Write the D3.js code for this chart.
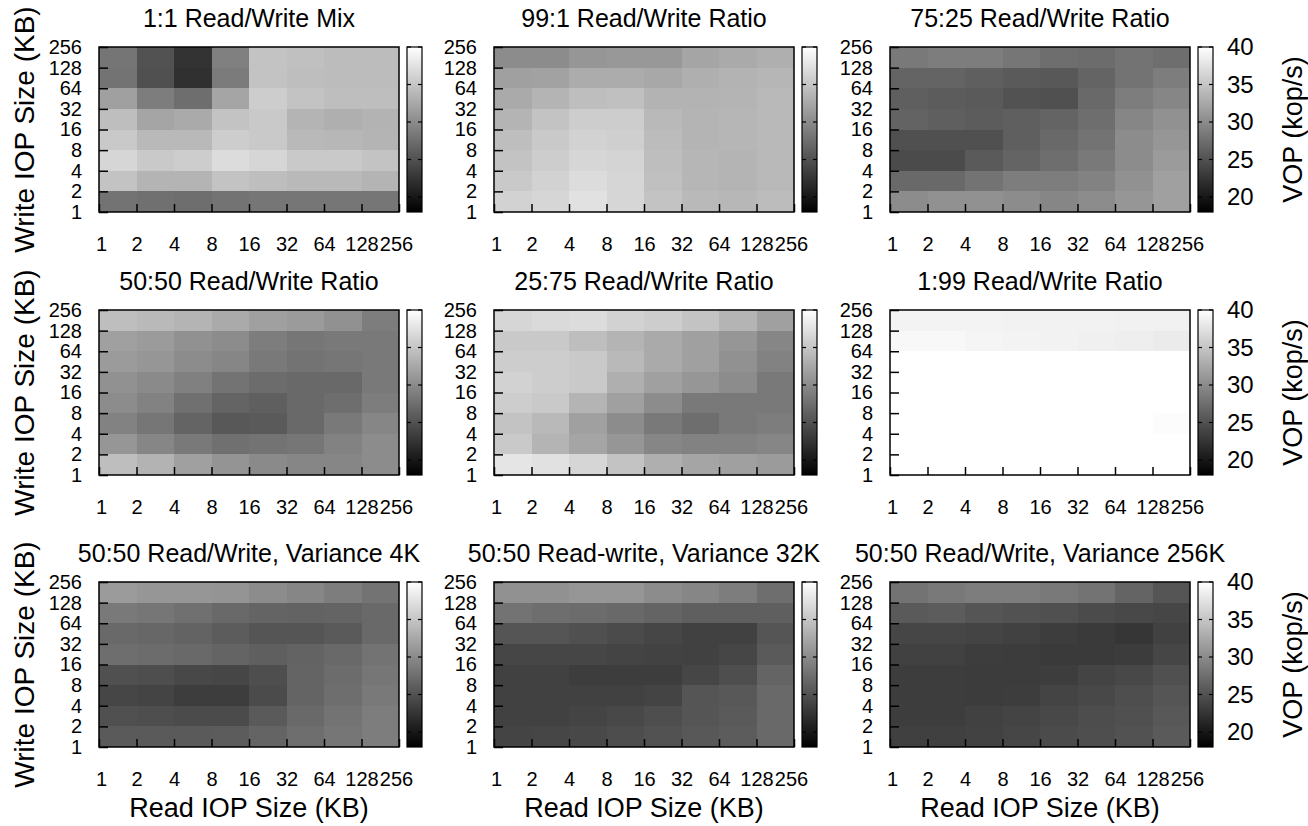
<!DOCTYPE html>
<html>
<head>
<meta charset="utf-8">
<script src="https://cdn.jsdelivr.net/npm/d3@7"></script>
<style>
  body { margin: 0; background: #fff; }
  svg { font-family: "Liberation Sans", Arial, Helvetica, sans-serif; }
</style>
</head>
<body>
<svg id="chart" width="1308" height="826"></svg>
<script>
// IOP sizes (KB); each cell spans [size, 2*size]
var readSizes = [1, 2, 4, 8, 16, 32, 64, 128];
var writeSizes = [128, 64, 32, 16, 8, 4, 2, 1]; // top row first
var tickLabels = [1, 2, 4, 8, 16, 32, 64, 128, 256];
var cbTicks = [20, 25, 30, 35, 40];

var titles = [
  "1:1 Read/Write Mix", "99:1 Read/Write Ratio", "75:25 Read/Write Ratio",
  "50:50 Read/Write Ratio", "25:75 Read/Write Ratio", "1:99 Read/Write Ratio",
  "50:50 Read/Write, Variance 4K", "50:50 Read-write, Variance 32K", "50:50 Read/Write, Variance 256K"
];

// VOP (kop/s), rows = write size 128..1, cols = read size 1..128
var mix11 = [
  [28.1, 25.1, 22.4, 29.0, 34.8, 34.6, 34.2, 34.2],
  [27.9, 24.9, 22.1, 28.6, 34.8, 34.4, 34.2, 34.2],
  [31.8, 28.8, 27.5, 32.2, 35.7, 34.8, 34.4, 34.4],
  [34.4, 32.2, 32.7, 34.8, 35.3, 33.5, 33.1, 33.4],
  [35.3, 34.0, 34.0, 35.7, 35.3, 34.0, 33.8, 33.5],
  [36.5, 35.3, 35.7, 37.0, 36.5, 35.3, 35.3, 34.8],
  [34.8, 33.5, 33.5, 34.8, 34.4, 34.0, 34.0, 33.5],
  [27.9, 27.7, 27.5, 27.9, 28.2, 28.2, 28.2, 28.2]
];
var ratio99_1 = [
  [30.1, 30.1, 30.9, 31.1, 31.1, 32.2, 32.7, 33.1],
  [31.8, 32.0, 32.8, 32.8, 32.5, 33.1, 33.4, 33.7],
  [32.7, 33.5, 34.4, 34.6, 33.4, 33.4, 33.5, 34.0],
  [33.5, 34.8, 35.7, 35.7, 34.0, 33.5, 33.7, 34.0],
  [34.4, 35.3, 36.1, 35.9, 34.2, 33.5, 33.7, 34.0],
  [34.8, 35.7, 36.5, 36.3, 34.4, 33.7, 33.5, 34.0],
  [35.3, 36.1, 37.0, 36.5, 34.6, 33.7, 33.5, 34.0],
  [36.1, 36.5, 37.4, 36.5, 34.8, 34.0, 33.8, 34.2]
];
var ratio75_25 = [
  [28.4, 28.8, 28.8, 28.2, 27.5, 27.3, 27.9, 27.5],
  [26.6, 26.6, 26.2, 25.8, 25.6, 26.6, 27.9, 28.8],
  [26.2, 25.9, 25.8, 25.1, 24.9, 27.1, 28.8, 29.6],
  [26.5, 26.2, 25.9, 26.2, 26.6, 27.5, 29.6, 30.5],
  [24.9, 24.9, 24.9, 26.2, 27.1, 27.9, 30.1, 30.9],
  [24.5, 24.5, 25.8, 26.6, 27.5, 28.4, 30.1, 31.4],
  [27.1, 27.1, 27.9, 28.8, 28.8, 29.2, 30.5, 31.8],
  [30.1, 30.5, 30.5, 30.1, 29.6, 30.1, 30.9, 31.8]
];
var ratio50_50 = [
  [34.4, 34.0, 33.5, 32.7, 31.8, 31.4, 30.5, 28.8],
  [31.8, 31.4, 30.5, 30.1, 28.8, 28.2, 28.4, 28.4],
  [31.4, 30.9, 30.1, 29.6, 28.4, 27.9, 28.2, 28.4],
  [30.5, 29.9, 29.0, 27.9, 27.3, 27.1, 27.1, 28.4],
  [30.1, 29.2, 27.7, 26.6, 26.2, 27.1, 27.5, 28.8],
  [29.2, 28.2, 26.6, 25.6, 25.8, 27.1, 28.4, 29.6],
  [30.9, 29.6, 28.4, 27.7, 27.9, 28.2, 29.2, 30.1],
  [34.4, 33.4, 31.8, 30.8, 29.9, 29.6, 29.6, 30.1]
];
var ratio25_75 = [
  [36.5, 36.8, 37.0, 36.1, 35.7, 34.8, 33.5, 31.8],
  [35.3, 35.3, 34.4, 33.5, 32.7, 31.8, 30.9, 29.6],
  [35.7, 35.7, 35.3, 34.0, 32.7, 31.8, 30.5, 29.2],
  [36.1, 35.7, 35.3, 33.1, 31.8, 30.9, 30.1, 28.4],
  [35.7, 35.3, 33.5, 31.8, 30.1, 28.4, 28.4, 28.4],
  [34.8, 34.0, 31.8, 30.1, 28.4, 27.5, 28.4, 28.8],
  [35.3, 33.5, 32.2, 30.9, 29.6, 29.2, 29.2, 29.6],
  [37.8, 37.4, 36.5, 34.8, 33.1, 32.2, 31.8, 31.4]
];
var ratio1_99 = [
  [39.0, 39.0, 39.0, 38.9, 38.9, 38.9, 38.8, 38.8],
  [39.4, 39.4, 39.1, 39.0, 38.9, 38.7, 38.5, 38.3],
  [40.0, 40.0, 40.0, 40.0, 40.0, 40.0, 40.0, 40.0],
  [40.0, 40.0, 40.0, 40.0, 40.0, 40.0, 40.0, 40.0],
  [40.0, 40.0, 40.0, 40.0, 40.0, 40.0, 40.0, 40.0],
  [40.0, 40.0, 40.0, 40.0, 40.0, 40.0, 40.0, 39.7],
  [40.0, 40.0, 40.0, 40.0, 40.0, 40.0, 40.0, 40.0],
  [40.0, 40.0, 40.0, 40.0, 40.0, 40.0, 40.0, 40.0]
];
var var4k = [
  [31.4, 30.9, 30.9, 30.8, 30.1, 29.6, 28.8, 27.9],
  [28.4, 28.2, 27.7, 27.1, 26.6, 26.5, 26.6, 27.1],
  [27.1, 26.9, 26.5, 25.9, 25.3, 25.3, 25.8, 27.1],
  [27.5, 27.3, 27.1, 26.6, 26.2, 26.5, 27.1, 27.9],
  [24.9, 24.7, 24.2, 24.0, 24.7, 26.6, 27.3, 28.2],
  [24.0, 23.9, 23.3, 23.3, 24.5, 26.6, 27.5, 28.4],
  [24.9, 24.7, 24.5, 24.5, 25.8, 27.1, 27.9, 28.8],
  [25.8, 25.8, 25.8, 25.9, 26.6, 27.5, 28.2, 28.8]
];
var var32k = [
  [30.5, 30.5, 30.9, 30.9, 30.1, 29.6, 28.8, 27.5],
  [27.9, 27.5, 27.3, 27.1, 26.6, 26.2, 26.2, 26.2],
  [25.3, 25.3, 24.9, 24.5, 24.0, 23.6, 23.6, 25.3],
  [24.0, 24.0, 24.0, 23.9, 23.7, 23.6, 24.0, 25.8],
  [23.6, 23.6, 23.3, 23.3, 23.3, 24.0, 24.7, 26.6],
  [23.6, 23.6, 23.6, 23.6, 23.9, 25.3, 25.6, 27.1],
  [23.6, 23.6, 23.9, 24.2, 24.7, 25.3, 25.8, 27.1],
  [23.9, 24.0, 24.2, 24.6, 25.1, 25.6, 25.9, 27.1]
];
var var256k = [
  [27.9, 28.4, 28.8, 28.8, 28.4, 27.9, 26.6, 25.3],
  [25.8, 25.9, 25.3, 25.1, 24.9, 24.5, 24.2, 24.0],
  [24.0, 24.0, 23.9, 23.6, 23.3, 23.0, 22.7, 23.6],
  [23.6, 23.6, 23.3, 23.2, 23.0, 23.0, 23.2, 24.0],
  [23.3, 23.3, 23.2, 23.2, 23.3, 23.9, 24.2, 24.9],
  [23.3, 23.3, 23.2, 23.3, 23.9, 24.2, 24.7, 25.3],
  [23.3, 23.3, 23.6, 23.9, 24.2, 24.6, 24.9, 25.6],
  [23.5, 23.5, 23.7, 24.0, 24.5, 24.7, 25.1, 25.8]
];
var panels = [mix11, ratio99_1, ratio75_25, ratio50_50, ratio25_75, ratio1_99, var4k, var32k, var256k];

// layout
var colLeft = [99, 494, 890];
var rowTop = [47, 310, 582];
var W = 300, H = 165;
var cbGap = 8, cbW = 15;

var svg = d3.select("#chart");

var x = d3.scaleLog().base(2).domain([1, 256]).range([0, W]);
var y = d3.scaleLog().base(2).domain([1, 256]).range([H, 0]);
var cbMin = 18, cbMax = 40;
var color = d3.scaleLinear().domain([cbMin, cbMax]).range(["#000", "#fff"]).clamp(true);
var cy = d3.scaleLinear().domain([cbMin, cbMax]).range([H, 0]);

var grad = svg.append("defs").append("linearGradient")
    .attr("id", "grey").attr("x1", 0).attr("y1", 1).attr("x2", 0).attr("y2", 0);
grad.append("stop").attr("offset", 0).attr("stop-color", "#000");
grad.append("stop").attr("offset", 1).attr("stop-color", "#fff");

panels.forEach(function(vals, p) {
  var r = Math.floor(p / 3), c = p % 3;
  var g = svg.append("g")
    .attr("transform", "translate(" + colLeft[c] + "," + rowTop[r] + ")");

  var cells = [];
  vals.forEach(function(row, i) {
    row.forEach(function(v, j) {
      cells.push({ w: writeSizes[i], rd: readSizes[j], v: v });
    });
  });

  g.selectAll("rect.cell")
    .data(cells)
    .join("rect")
    .attr("class", "cell")
    .attr("x", function(d) { return x(d.rd); })
    .attr("y", function(d) { return y(d.w * 2); })
    .attr("width", function(d) { return x(d.rd * 2) - x(d.rd); })
    .attr("height", function(d) { return y(d.w) - y(d.w * 2); })
    .attr("fill", function(d) { return color(d.v); })
    .attr("shape-rendering", "crispEdges");

  var xa = g.append("g")
    .attr("transform", "translate(0," + H + ")")
    .call(d3.axisBottom(x).tickValues(tickLabels).tickFormat(d3.format("d"))
      .tickSize(-8).tickPadding(25));
  var ya = g.append("g")
    .call(d3.axisLeft(y).tickValues(tickLabels).tickFormat(d3.format("d"))
      .tickSize(-9).tickPadding(17));
  [xa, ya].forEach(function(a) {
    a.select(".domain").remove();
    a.selectAll("line").attr("stroke", "#000").attr("stroke-width", 1.5);
    a.selectAll("text").attr("fill", "#000").style("font-size", "20px");
  });
  // last x label sits a little inward, like the original
  xa.selectAll(".tick text").attr("dx", function(d) { return d === 256 ? -3 : d === 1 ? 2 : 0; });

  g.append("rect")
    .attr("width", W).attr("height", H)
    .attr("fill", "none").attr("stroke", "#000").attr("stroke-width", 1.5);

  g.append("text")
    .attr("x", W / 2).attr("y", -20)
    .attr("text-anchor", "middle")
    .style("font-size", "25px")
    .text(titles[p]);

  // colour box
  var cb = g.append("g").attr("transform", "translate(" + (W + cbGap) + ",0)");
  cb.append("rect").attr("width", cbW).attr("height", H).attr("fill", "url(#grey)");
  cb.selectAll("line.tl")
    .data(cbTicks)
    .join("line")
    .attr("class", "tl")
    .attr("x1", 0).attr("x2", 4)
    .attr("y1", function(d) { return cy(d); }).attr("y2", function(d) { return cy(d); })
    .attr("stroke", "#000").attr("stroke-width", 1.2);
  cb.selectAll("line.tr")
    .data(cbTicks)
    .join("line")
    .attr("class", "tr")
    .attr("x1", cbW - 4).attr("x2", cbW)
    .attr("y1", function(d) { return cy(d); }).attr("y2", function(d) { return cy(d); })
    .attr("stroke", "#000").attr("stroke-width", 1.2);
  cb.append("rect").attr("width", cbW).attr("height", H)
    .attr("fill", "none").attr("stroke", "#000").attr("stroke-width", 1.2);

  if (c === 2) {
    cb.selectAll("text.cbl")
      .data(cbTicks)
      .join("text")
      .attr("class", "cbl")
      .attr("x", cbW + 14)
      .attr("y", function(d) { return cy(d); })
      .attr("dy", "0.35em")
      .style("font-size", "24px")
      .text(function(d) { return d; });
    svg.append("text")
      .attr("transform", "translate(1293," + (rowTop[r] + H / 2) + ") rotate(-90)")
      .attr("text-anchor", "middle").attr("dy", "0.35em")
      .style("font-size", "27px")
      .text("VOP (kop/s)");
  }
  if (c === 0) {
    svg.append("text")
      .attr("transform", "translate(24," + (rowTop[r] + H / 2) + ") rotate(-90)")
      .attr("text-anchor", "middle").attr("dy", "0.35em")
      .style("font-size", "28px")
      .text("Write IOP Size (KB)");
  }
  if (r === 2) {
    g.append("text")
      .attr("x", W / 2).attr("y", H + 70)
      .attr("text-anchor", "middle")
      .style("font-size", "27px")
      .text("Read IOP Size (KB)");
  }
});
</script>
</body>
</html>
